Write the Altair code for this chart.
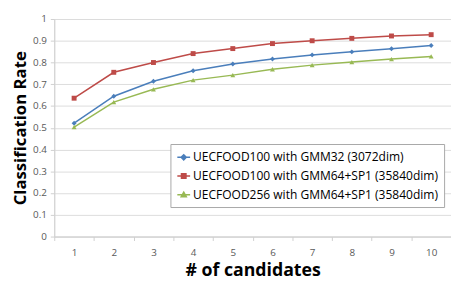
import altair as alt
import pandas as pd

candidates = [1, 2, 3, 4, 5, 6, 7, 8, 9, 10]
series_names = [
    "UECFOOD100 with GMM32 (3072dim)",
    "UECFOOD100 with GMM64+SP1 (35840dim)",
    "UECFOOD256 with GMM64+SP1 (35840dim)",
]
blue_vals = [0.521, 0.645, 0.714, 0.762, 0.793, 0.816, 0.835, 0.849, 0.863, 0.878]
red_vals = [0.636, 0.755, 0.800, 0.841, 0.864, 0.887, 0.900, 0.911, 0.922, 0.928]
green_vals = [0.503, 0.618, 0.677, 0.719, 0.742, 0.769, 0.788, 0.802, 0.816, 0.828]
colors = ["#4A7EBB", "#BE4B48", "#98B954"]
shapes = ["diamond", "square", "triangle-up"]
# legend symbols: short line with a (stroke-filled) marker in the middle
legend_shapes = [
    "M-1,0H1M0,-0.4L0.4,0L0,0.4L-0.4,0ZM0,-0.4V0.4",
    "M-1,0H1M-0.35,-0.35H0.35V0.35H-0.35ZM-0.35,-0.12H0.35M-0.35,0.12H0.35",
    "M-1,0H1M0,-0.4L0.4,0.3H-0.4ZM0,-0.4V0.3M-0.2,0.15H0.2",
]

rows = []
for name, vals in zip(series_names, [blue_vals, red_vals, green_vals]):
    for k, v in zip(candidates, vals):
        rows.append({"k": k, "rate": v, "series": name, "series_pt": name})
df = pd.DataFrame(rows)

FONT = "Open Sans"

x = alt.X(
    "k:O",
    bandPosition=0.5,
    scale=alt.Scale(type="band", paddingInner=0, paddingOuter=0),
    axis=alt.Axis(
        title="# of candidates", titleFont=FONT, titleFontSize=18, titleFontWeight="bold",
        titleColor="#000000", titlePadding=5,
        labelAngle=0, labelFont=FONT, labelFontSize=10, labelColor="#595959", labelPadding=7,
        tickBand="extent", ticks=True, tickSize=4, tickColor="#d0d0d0",
        domainColor="#d0d0d0", grid=False,
    ),
)
y = alt.Y(
    "rate:Q",
    scale=alt.Scale(domain=[0, 1]),
    axis=alt.Axis(
        title="Classification Rate", titleFont=FONT, titleFontSize=17, titleFontWeight="bold",
        titleColor="#000000", titlePadding=3,
        values=[0, 0.1, 0.2, 0.3, 0.4, 0.5, 0.6, 0.7, 0.8, 0.9, 1],
        labelExpr="datum.value == 0 ? '0' : datum.value == 1 ? '1' : format(datum.value, '.1f')",
        labelFont=FONT, labelFontSize=10, labelColor="#595959", labelPadding=4,
        ticks=True, tickSize=4, tickColor="#d0d0d0",
        domainColor="#d0d0d0", gridColor="#dcdcdc",
    ),
)

color_scale = alt.Scale(domain=series_names, range=colors)

base = alt.Chart(df).encode(x=x, y=y)

lines = base.mark_line(strokeWidth=1.5).encode(
    color=alt.Color("series:N", scale=color_scale, legend=None)
)
points = base.mark_point(filled=True, size=25, opacity=1).encode(
    color=alt.Color("series:N", scale=color_scale, legend=None),
    shape=alt.Shape("series_pt:N", scale=alt.Scale(domain=series_names, range=shapes), legend=None),
)
legend_layer = base.mark_point(filled=True, strokeWidth=1.5, opacity=0).encode(
    color=alt.Color(
        "series:N", scale=color_scale,
        legend=alt.Legend(
            title=None, orient="none", legendX=118, legendY=127,
            labelFont=FONT, labelFontSize=12.2, labelColor="#000000",
            strokeColor="#a8a8a8", fillColor="#ffffff", padding=6,
            rowPadding=5, symbolSize=169, symbolStrokeWidth=1.5, labelLimit=400,
            labelOffset=2, symbolOpacity=1,
        ),
    ),
    stroke=alt.Stroke("series:N", scale=color_scale),
    shape=alt.Shape("series:N", scale=alt.Scale(domain=series_names, range=legend_shapes)),
)

chart = (
    alt.layer(lines, points, legend_layer)
    .resolve_scale(color="independent", shape="independent", stroke="independent")
    .properties(width=403, height=221, padding={"left": 47, "top": 9, "right": 0, "bottom": 45},
                autosize=alt.AutoSizeParams(type="none"))
    .configure_view(stroke=None)
    .configure(background="#ffffff")
)

chart.save("out.html", embed_options={"renderer": "svg", "actions": False})
